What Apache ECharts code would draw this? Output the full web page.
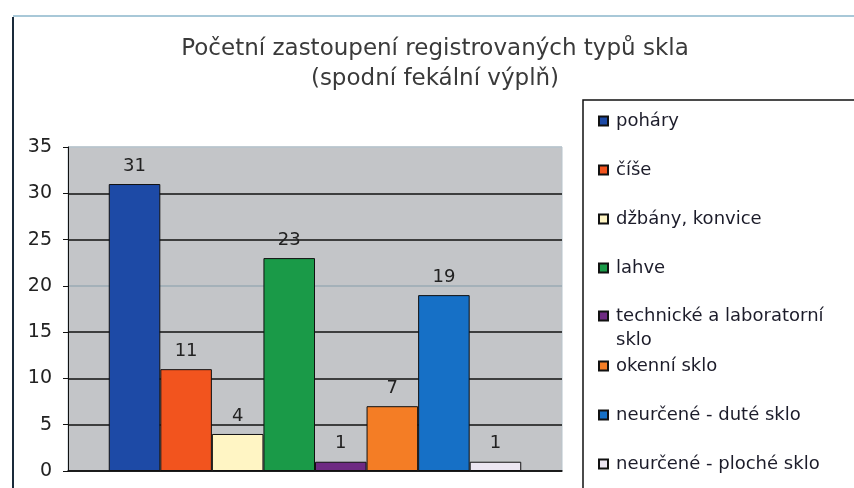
<!DOCTYPE html>
<html>
<head>
<meta charset="utf-8">
<script src="https://cdn.jsdelivr.net/npm/echarts@6/dist/echarts.min.js"></script>
<style>
  html, body { margin: 0; padding: 0; background: #fff; }
  #chart { width: 854px; height: 488px; }
</style>
</head>
<body>
<div id="chart"></div>
<script>
// druhy skla a jejich počty
var typy = ['poháry', 'číše', 'džbány, konvice', 'lahve', 'technické a laboratorní sklo',
            'okenní sklo', 'neurčené - duté sklo', 'neurčené - ploché sklo'];
var pocty = [31, 11, 4, 23, 1, 7, 19, 1];
var barvy = ['#1d4aa6', '#f2541e', '#fff5c4', '#1a9a48', '#6e2a82', '#f47d25', '#1670c6', '#ece6f2'];
var yTicks = [0, 5, 10, 15, 20, 25, 30, 35];

var font = 'DejaVu Sans';
var chart = echarts.init(document.getElementById('chart'));

var series = typy.map(function (t, i) {
    return {
        name: t,
        type: 'bar',
        data: [pocty[i]],
        barGap: '0%',
        barCategoryGap: '16.5%',
        itemStyle: {color: barvy[i], borderColor: '#111', borderWidth: 1},
        label: {
            show: true,
            position: 'top',
            distance: 9,
            fontFamily: font,
            fontSize: 18,
            color: '#222'
        },
        animation: false
    }
});

// každá položka legendy zvlášť, aby měly stejné rozestupy
var legendy = typy.map(function (t, i) {
    return {
        data: [t],
        left: 593,
        top: 107 + i * 49,
        icon: 'rect',
        itemWidth: 9,
        itemHeight: 9,
        itemGap: 0,
        textStyle: {fontFamily: font, fontSize: 18, color: '#1c1c2a', padding: [0, 0, 0, 3]},
        selectedMode: false
    }
});
// dlouhý název se zalamuje, první řádek u značky (prázdný řádek nahoře kvůli centrování)
legendy[4].top = 275;
legendy[4].formatter = function (n) {
    return ' \ntechnické a laboratorní\nsklo';
};
legendy[4].textStyle = {fontFamily: font, fontSize: 18, color: '#1c1c2a', lineHeight: 24, padding: [0, 0, 0, 3]};

chart.setOption({
    backgroundColor: '#fff',
    title: {
        text: 'Početní zastoupení registrovaných typů skla\n(spodní fekální výplň)',
        left: 430,
        textAlign: 'center',
        top: 29,
        textStyle: {fontFamily: font, fontSize: 23, fontWeight: 'normal', color: '#3a3a3a', lineHeight: 30}
    },
    legend: legendy,
    grid: {
        left: 68, right: 292, top: 147, bottom: 17,
        show: true,
        backgroundColor: '#c3c5c8',
        borderColor: '#b8c4cc',
        borderWidth: 1
    },
    xAxis: {
        type: 'category',
        data: [''],
        axisLine: {lineStyle: {color: '#111', width: 1.5}},
        axisTick: {show: false},
        axisLabel: {show: false}
    },
    yAxis: {
        type: 'value',
        min: yTicks[0],
        max: yTicks[yTicks.length - 1],
        interval: 5,
        axisLine: {show: true, lineStyle: {color: '#111', width: 1}},
        axisTick: {show: true, length: 5, lineStyle: {color: '#111'}},
        axisLabel: {fontFamily: font, fontSize: 19, color: '#222', margin: 16},
        splitLine: {
            lineStyle: {
                color: ['#111', '#111', '#111', '#111', '#9aaab4', '#111', '#111', '#b8c4cc'],
                width: 1.5
            }
        }
    },
    graphic: [
        {type: 'line', shape: {x1: 13, y1: 17, x2: 13, y2: 488}, style: {stroke: '#1a2a3a', lineWidth: 2}},
        {type: 'line', shape: {x1: 13, y1: 16, x2: 854, y2: 16}, style: {stroke: '#a8c8d8', lineWidth: 2}},
        {type: 'rect', shape: {x: 583, y: 100, width: 290, height: 410}, style: {fill: 'none', stroke: '#111', lineWidth: 1.5}, z: -1}
    ],
    series: series
});
</script>
</body>
</html>
